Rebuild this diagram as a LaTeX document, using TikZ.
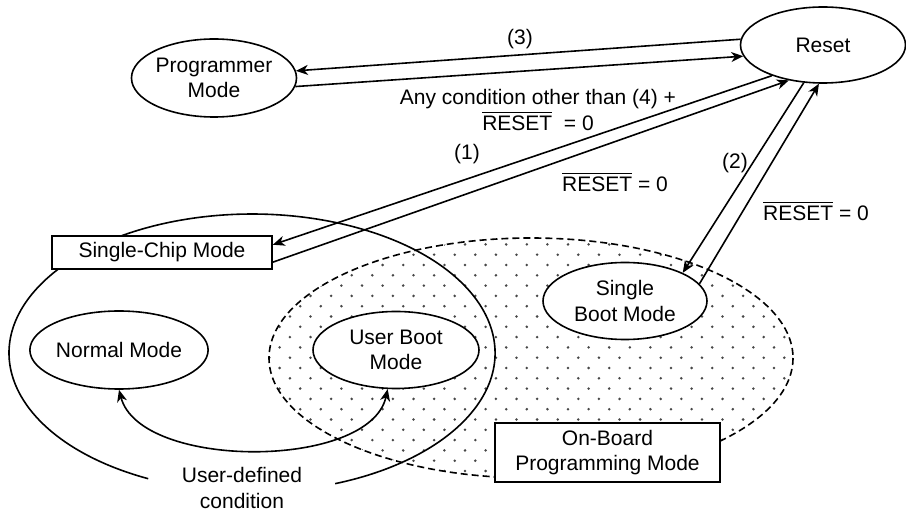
\documentclass[tikz,border=0pt]{standalone}
\usepackage{fontspec}
\setmainfont{Liberation Sans}
\usetikzlibrary{arrows.meta,shapes.geometric}
\newcommand{\ovl}[1]{$\overline{\mbox{#1}}$}
\begin{document}
\begin{tikzpicture}[x=0.5pt,y=-0.5pt,
  every node/.style={font=\fontsize{10.5}{12.8}\selectfont},
  >={Stealth[length=6pt,width=5pt,inset=1.8pt]},
  st/.style={draw, line width=0.8pt, ellipse, inner sep=0pt, fill=white, align=center},
  bx/.style={draw, line width=0.8pt, rectangle, inner sep=0pt, fill=white, align=center},
  lbl/.style={inner sep=0pt, align=center},
  conn/.style={line width=0.8pt, ->},
  dconn/.style={line width=0.8pt, <->},
]
\useasboundingbox (0,0) rectangle (906,518);
\fill[white] (0,0) rectangle (906,518);
% dotted on-board region
\begin{scope}
  \clip (531,358) ellipse [x radius=262, y radius=120];
  \foreach \j in {0,...,25}{
    \foreach \i in {-15,...,11}{
      \fill[black!72] ({578.3+20.6*\i+10.3*mod(\j,2)}, {234.1+10.3*\j}) circle[radius=1.4];
    }
  }
\end{scope}
\draw[line width=0.8pt, dash pattern=on 3.5pt off 2pt] (531,358) ellipse [x radius=262, y radius=120];
% single-chip region outline
\draw[line width=0.8pt] (148.2,478.7) arc[start angle=115.3, end angle=430, x radius=243, y radius=139];

% states
\node[st, minimum width=82.5pt, minimum height=39pt] (prog) at (214,78) {Programmer\\Mode};
\node[st, minimum width=82.5pt, minimum height=38pt] (reset) at (823,45) {Reset};
\node[bx, minimum width=110pt, minimum height=16.5pt] (chip) at (162,252.5) {Single-Chip Mode};
\node[st, minimum width=83pt, minimum height=39pt] (normal) at (119,350) {Normal Mode};
\node[st, minimum width=83pt, minimum height=38.5pt] (uboot) at (396,350) {User Boot\\Mode};
\node[st, minimum width=82pt, minimum height=38.5pt] (sboot) at (625,301) {Single\\Boot Mode};
\node[bx, minimum width=112.5pt, minimum height=29.5pt] (onboard) at (607.5,452.5) {On-Board\\Programming Mode};

% connectors
\draw[conn] (reset.176.5) -- (prog.5);
\draw[conn] (prog.-6) -- (reset.188);
\draw[conn] (reset.211) -- (chip.4.4);
\draw[conn] (chip.-5.4) -- (reset.226.5);
\draw[conn] (reset.243) -- (sboot.26);
\draw[conn] (sboot.13.5) -- (reset.264);
\draw[dconn] (normal.south) .. controls (140,470) and (370,470) .. (uboot.258);

% labels
\node[lbl] (l3) at (520,39) {(3)};
\node[lbl] (lany) at (538,110) {Any condition other than (4) +\\\ovl{RESET}\ \ = 0};
\node[lbl] (l1) at (467,154) {(1)};
\node[lbl] (lr1) at (615,182) {\ovl{RESET} = 0};
\node[lbl] (l2) at (735,163) {(2)};
\node[lbl] (lr2) at (816,211) {\ovl{RESET} = 0};
\node[lbl] (lud) at (242,488) {User-defined\\condition};
\end{tikzpicture}
\end{document}
